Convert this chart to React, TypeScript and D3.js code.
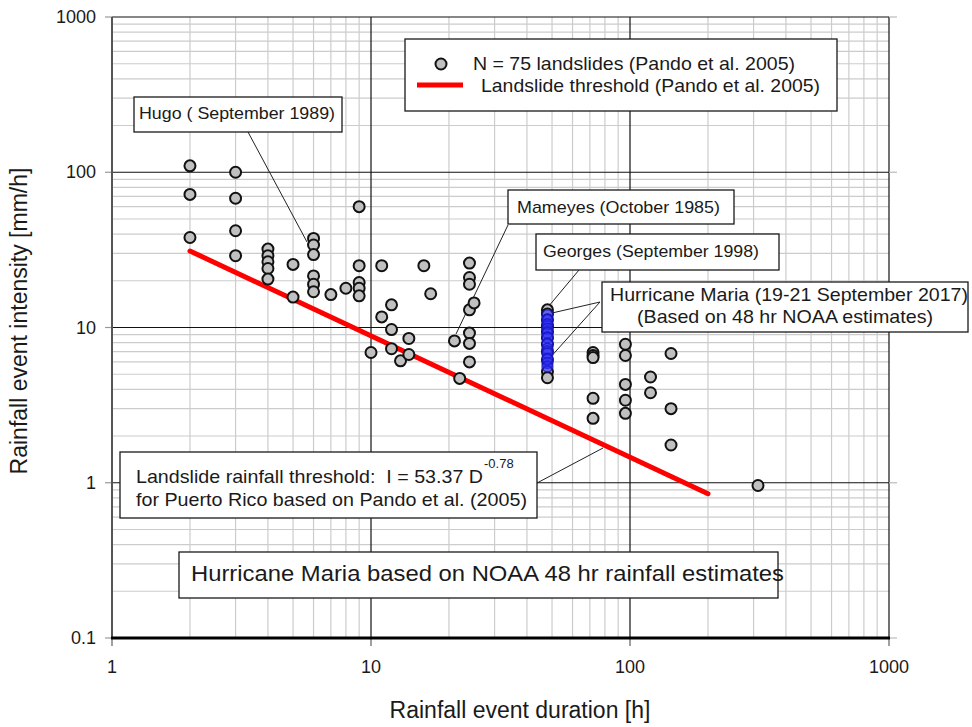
import React from "react";
import * as d3 from "d3";

// ---- data ----
const landslideDurations = [
  2, 2, 2,
  3, 3, 3, 3,
  4, 4, 4, 4, 4,
  5, 5,
  6, 6, 6, 6, 6, 6,
  7, 8,
  9, 9, 9, 9, 9,
  10, 11, 11, 12, 12, 12, 13, 14, 14, 16, 17, 21, 22,
  24, 24, 24, 24, 24, 24, 24, 25,
  48, 48, 48, 48, 48, 48, 48, 48, 48, 48, 48,
  72, 72, 72, 72, 72,
  96, 96, 96, 96, 96,
  120, 120,
  144, 144, 144,
  312,
];
const landslideIntensities = [
  110, 72, 38,
  100, 68, 42, 29,
  32, 29, 26.5, 24, 20.5,
  25.5, 15.7,
  37.5, 34, 29.5, 21.5, 19, 17,
  16.3, 17.9,
  60, 25, 19.5, 17.9, 16,
  6.9, 25, 11.7, 14, 9.7, 7.3, 6.1, 8.5, 6.7, 25, 16.5, 8.2, 4.7,
  26, 21, 19, 13, 9.2, 7.9, 6.0, 14.4,
  13, 12.2, 11.2, 10.2, 9.4, 8.6, 7.8, 7.0, 6.2, 5.2, 4.75,
  6.9, 6.6, 6.4, 3.5, 2.6,
  7.8, 6.6, 4.3, 3.4, 2.8,
  4.8, 3.8,
  6.8, 3.0, 1.75,
  0.96,
];
const mariaDurations = [48, 48, 48, 48, 48, 48, 48, 48, 48, 48, 48, 48];
const mariaIntensities = [12.0, 11.2, 10.5, 9.8, 9.2, 8.6, 7.9, 7.3, 6.8, 6.3, 5.9, 5.6];
const thresholdDurations = [2, 200];
const thresholdIntensities = [31.1, 0.85];

const xTickValues = [1, 10, 100, 1000];
const xTickLabels = ["1", "10", "100", "1000"];
const yTickValues = [0.1, 1, 10, 100, 1000];
const yTickLabels = ["0.1", "1", "10", "100", "1000"];

const xTitle = "Rainfall event duration [h]";
const yTitle = "Rainfall event intensity [mm/h]";
const legendLabels = ["N = 75 landslides (Pando et al. 2005)", "Landslide threshold (Pando et al. 2005)"];

const FONT = "'Liberation Sans', Arial, Helvetica, sans-serif";

export default function App() {
  const W = 972, H = 727;
  const left = 112, right = 889, top = 17, bottom = 638;
  const x = d3.scaleLog().domain([1, 1000]).range([left, right]);
  const y = d3.scaleLog().domain([0.1, 1000]).range([bottom, top]);

  const minorX: number[] = [];
  for (let k = 0; k < 3; k++) for (let m = 2; m <= 9; m++) minorX.push(m * Math.pow(10, k));
  const minorY: number[] = [];
  for (let k = -1; k < 3; k++) for (let m = 2; m <= 9; m++) minorY.push(m * Math.pow(10, k));

  const line = d3.line<number>().x((_, i) => x(thresholdDurations[i])).y((d) => y(d));

  const box = (bx: number, by: number, bw: number, bh: number) => (
    <rect x={bx} y={by} width={bw} height={bh} fill="#fff" stroke="#1a1a1a" strokeWidth={1.3} />
  );
  const txt = "#1a1a1a";

  return (
    <svg width={W} height={H} style={{ position: "absolute", left: 0, top: 0, background: "#fff" }} fontFamily={FONT}>
      <rect x={0} y={0} width={W} height={H} fill="#fff" />
      {/* minor grid */}
      {minorX.map((v) => (
        <line key={"mx" + v} x1={x(v)} x2={x(v)} y1={top} y2={bottom} stroke="#cccccc" strokeWidth={1.2} />
      ))}
      {minorY.map((v) => (
        <line key={"my" + v} x1={left} x2={right} y1={y(v)} y2={y(v)} stroke="#cccccc" strokeWidth={1.2} />
      ))}
      {/* major grid */}
      {xTickValues.map((v) => (
        <line key={"Mx" + v} x1={x(v)} x2={x(v)} y1={top} y2={bottom} stroke="#111" strokeWidth={1.2} />
      ))}
      {yTickValues.map((v) => (
        <line key={"My" + v} x1={left} x2={right} y1={y(v)} y2={y(v)} stroke="#111" strokeWidth={1.2} />
      ))}
      {/* outer ticks */}
      {yTickValues.map((v) => (
        <g key={"ty" + v}>
          <line x1={left - 7} x2={left} y1={y(v)} y2={y(v)} stroke="#999" strokeWidth={1.2} />
          <line x1={right} x2={right + 8} y1={y(v)} y2={y(v)} stroke="#bbb" strokeWidth={1.2} />
        </g>
      ))}
      {xTickValues.map((v) => (
        <line key={"tx" + v} x1={x(v)} x2={x(v)} y1={bottom} y2={bottom + 8} stroke="#777" strokeWidth={1.4} />
      ))}
      {/* axis lines */}
      <line x1={left} x2={left} y1={top} y2={bottom} stroke="#555" strokeWidth={2} />
      <line x1={left - 1} x2={right + 1} y1={bottom} y2={bottom} stroke="#000" strokeWidth={3} />

      {/* tick labels */}
      {yTickValues.map((v, i) => (
        <text key={"ly" + v} x={96} y={y(v) + 6} textAnchor="end" fontSize={18} fill={txt}>
          {yTickLabels[i]}
        </text>
      ))}
      {xTickValues.map((v, i) => (
        <text key={"lx" + v} x={x(v)} y={673} textAnchor="middle" fontSize={18} fill={txt}>
          {xTickLabels[i]}
        </text>
      ))}
      <text x={520} y={718} textAnchor="middle" fontSize={23} fill={txt}>
        {xTitle}
      </text>
      <text transform={`translate(27,${321}) rotate(-90)`} textAnchor="middle" fontSize={23} fill={txt}>
        {yTitle}
      </text>

      {/* leader lines */}
      <g stroke="#222" strokeWidth={1} fill="none">
        <line x1={248} y1={132} x2={307} y2={242} />
        <line x1={508} y1={225} x2={456} y2={334} />
        <line x1={579} y1={270} x2={548} y2={307} />
        <line x1={600} y1={302} x2={552} y2={313} />
        <line x1={600} y1={302} x2={548} y2={360} />
        <line x1={537} y1={483} x2={603} y2={448} />
      </g>

      {/* threshold line */}
      <path d={line(thresholdIntensities) || ""} stroke="#ff0000" strokeWidth={5} fill="none" strokeLinecap="round" />

      {/* landslide points */}
      {landslideDurations.map((d, i) => (
        <circle key={"p" + i} cx={x(d)} cy={y(landslideIntensities[i])} r={5.5} fill="#c0c0c0" stroke="#111" strokeWidth={2} />
      ))}
      {/* Maria points */}
      {mariaDurations.map((d, i) => (
        <circle key={"m" + i} cx={x(d)} cy={y(mariaIntensities[i])} r={5.5} fill="rgba(40,40,255,0.6)" stroke="rgba(20,20,190,0.7)" strokeWidth={1.5} />
      ))}

      {/* legend */}
      {box(405, 39, 432, 72)}
      <circle cx={441} cy={64} r={5.5} fill="#c0c0c0" stroke="#111" strokeWidth={2} />
      <line x1={417} x2={463} y1={85} y2={85} stroke="#ff0000" strokeWidth={5} />
      <text x={473} y={70} fontSize={18.5} fill={txt} textLength={322} lengthAdjust="spacingAndGlyphs">
        {legendLabels[0]}
      </text>
      <text x={481} y={92} fontSize={18.5} fill={txt} textLength={339} lengthAdjust="spacingAndGlyphs">
        {legendLabels[1]}
      </text>

      {/* Hugo */}
      {box(134, 97, 208, 35)}
      <text x={139} y={119} fontSize={17} fill={txt} textLength={196} lengthAdjust="spacingAndGlyphs">
        Hugo ( September 1989)
      </text>
      {/* Mameyes */}
      {box(508, 190, 226, 34)}
      <text x={517} y={213} fontSize={17} fill={txt} textLength={203} lengthAdjust="spacingAndGlyphs">
        Mameyes (October 1985)
      </text>
      {/* Georges */}
      {box(536, 234, 243, 36)}
      <text x={543} y={257} fontSize={17} fill={txt} textLength={216} lengthAdjust="spacingAndGlyphs">
        Georges (September 1998)
      </text>
      {/* Maria */}
      {box(602, 282, 366, 50)}
      <text x={610} y={301} fontSize={19} fill={txt} textLength={358} lengthAdjust="spacingAndGlyphs">
        Hurricane Maria (19-21 September 2017)
      </text>
      <text x={637} y={323} fontSize={19} fill={txt} textLength={296} lengthAdjust="spacingAndGlyphs">
        (Based on 48 hr NOAA estimates)
      </text>
      {/* equation */}
      {box(120, 452, 417, 66)}
      <text x={136} y={483} fontSize={19} fill={txt} textLength={347} lengthAdjust="spacingAndGlyphs" style={{ whiteSpace: "pre" }}>
        {"Landslide rainfall threshold:\u00a0 I = 53.37 D"}
      </text>
      <text x={484} y={468} fontSize={13} fill={txt}>
        -0.78
      </text>
      <text x={136} y={506} fontSize={19} fill={txt} textLength={391} lengthAdjust="spacingAndGlyphs">
        for Puerto Rico based on Pando et al. (2005)
      </text>
      {/* bottom note */}
      {box(179, 552, 599, 46)}
      <text x={191} y={581} fontSize={22} fill={txt} textLength={593} lengthAdjust="spacingAndGlyphs">
        Hurricane Maria based on NOAA 48 hr rainfall estimates
      </text>
    </svg>
  );
}
